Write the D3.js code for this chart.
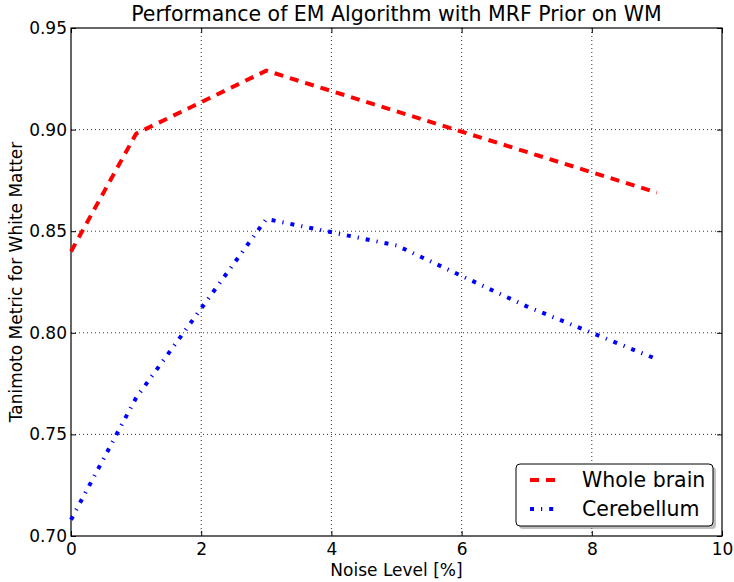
<!DOCTYPE html>
<html>
<head>
<meta charset="utf-8">
<script src="https://cdn.jsdelivr.net/npm/d3@7"></script>
<style>
  body { margin: 0; background: #fff; }
  text { font-family: "DejaVu Sans", sans-serif; fill: #000; }
</style>
</head>
<body>
<div id="chart"></div>
<script>
// data
const noiseLevels = [0, 1, 3, 5, 7, 9];
const wholeBrain = [0.840, 0.898, 0.929, 0.909, 0.889, 0.869];
const cerebellum = [0.708, 0.768, 0.856, 0.843, 0.813, 0.787];
const xTicks = [0, 2, 4, 6, 8, 10];
const yTicks = [0.70, 0.75, 0.80, 0.85, 0.90, 0.95];
const seriesNames = ["Whole brain", "Cerebellum"];

const W = 734, H = 582;
const margin = { top: 28, right: 12, bottom: 46, left: 71 },
    width = W - margin.left - margin.right,
    height = H - margin.top - margin.bottom;

const svg = d3.select("#chart").append("svg")
    .attr("width", W)
    .attr("height", H);

const g = svg.append("g")
    .attr("transform", `translate(${margin.left},${margin.top})`);

const x = d3.scaleLinear().domain([0, 10]).range([0, width]);
const y = d3.scaleLinear().domain([0.70, 0.95]).range([height, 0]);

// grid lines (dotted)
g.append("g")
    .selectAll("line")
    .data(xTicks.slice(1, -1))
    .join("line")
    .attr("x1", d => x(d)).attr("x2", d => x(d))
    .attr("y1", 0).attr("y2", height)
    .attr("stroke", "#000").attr("stroke-width", 0.8)
    .attr("stroke-dasharray", "1,3");

g.append("g")
    .selectAll("line")
    .data(yTicks.slice(1, -1))
    .join("line")
    .attr("y1", d => y(d)).attr("y2", d => y(d))
    .attr("x1", 0).attr("x2", width)
    .attr("stroke", "#000").attr("stroke-width", 0.8)
    .attr("stroke-dasharray", "1,3");

// axes, ticks pointing inward
const fmt = d3.format(".2f");
const xAxis = g.append("g")
    .attr("transform", `translate(0,${height})`)
    .call(d3.axisBottom(x).tickValues(xTicks).tickSize(-5).tickPadding(7).tickFormat(d3.format("d")));
const yAxis = g.append("g")
    .call(d3.axisLeft(y).tickValues(yTicks).tickSize(-5).tickPadding(4).tickFormat(fmt));
g.append("g")
    .call(d3.axisTop(x).tickValues(xTicks).tickSize(-5).tickFormat(""));
g.append("g")
    .attr("transform", `translate(${width},0)`)
    .call(d3.axisRight(y).tickValues(yTicks).tickSize(-5).tickFormat(""));

g.selectAll(".domain").remove();
g.selectAll(".tick line").attr("stroke", "#000").attr("stroke-width", 1);
g.selectAll(".tick text")
    .style("font-family", "DejaVu Sans")
    .style("font-size", "17px")
    .attr("fill", "#000");

// frame
g.append("rect")
    .attr("width", width).attr("height", height)
    .attr("fill", "none").attr("stroke", "#000").attr("stroke-width", 1.2);

// lines
const line = d3.line()
    .x((d, i) => x(noiseLevels[i]))
    .y(d => y(d));

const plot = g.append("g");
plot.append("path")
    .datum(wholeBrain)
    .attr("d", line)
    .attr("fill", "none")
    .attr("stroke", "#ff0000")
    .attr("stroke-width", 4)
    .attr("stroke-dasharray", "9,7");

plot.append("path")
    .datum(cerebellum)
    .attr("d", line)
    .attr("fill", "none")
    .attr("stroke", "#0000ff")
    .attr("stroke-width", 4)
    .attr("stroke-dasharray", "4,7,1.2,7");

// title and labels
svg.append("text")
    .attr("x", margin.left + width / 2)
    .attr("y", 21)
    .attr("text-anchor", "middle")
    .style("font-size", "20.5px")
    .text("Performance of EM Algorithm with MRF Prior on WM");

svg.append("text")
    .attr("x", margin.left + width / 2)
    .attr("y", 576)
    .attr("text-anchor", "middle")
    .style("font-size", "17px")
    .text("Noise Level [%]");

svg.append("text")
    .attr("transform", `translate(22,${margin.top + height / 2}) rotate(-90)`)
    .attr("text-anchor", "middle")
    .style("font-size", "17px")
    .text("Tanimoto Metric for White Matter");

// legend
const lx = 516, ly = 464, lw = 197, lh = 62;
const legend = svg.append("g");
legend.append("rect")
    .attr("x", lx + 3).attr("y", ly + 3)
    .attr("width", lw).attr("height", lh)
    .attr("rx", 4)
    .attr("fill", "#7f7f7f").attr("opacity", 0.5);
legend.append("rect")
    .attr("x", lx).attr("y", ly)
    .attr("width", lw).attr("height", lh)
    .attr("rx", 4)
    .attr("fill", "#fff").attr("stroke", "#000").attr("stroke-width", 1);

const legendStyles = [
    { color: "#ff0000", dash: "9,7" },
    { color: "#0000ff", dash: "4,7,1.2,7" }
];
seriesNames.forEach((name, i) => {
    const yy = ly + 16 + i * 29;
    legend.append("line")
        .attr("x1", lx + 14).attr("x2", lx + 40)
        .attr("y1", yy).attr("y2", yy)
        .attr("stroke", legendStyles[i].color)
        .attr("stroke-width", 4)
        .attr("stroke-dasharray", legendStyles[i].dash);
    legend.append("text")
        .attr("x", lx + 66)
        .attr("y", yy + 7)
        .style("font-size", "20.5px")
        .text(name);
});
</script>
</body>
</html>
